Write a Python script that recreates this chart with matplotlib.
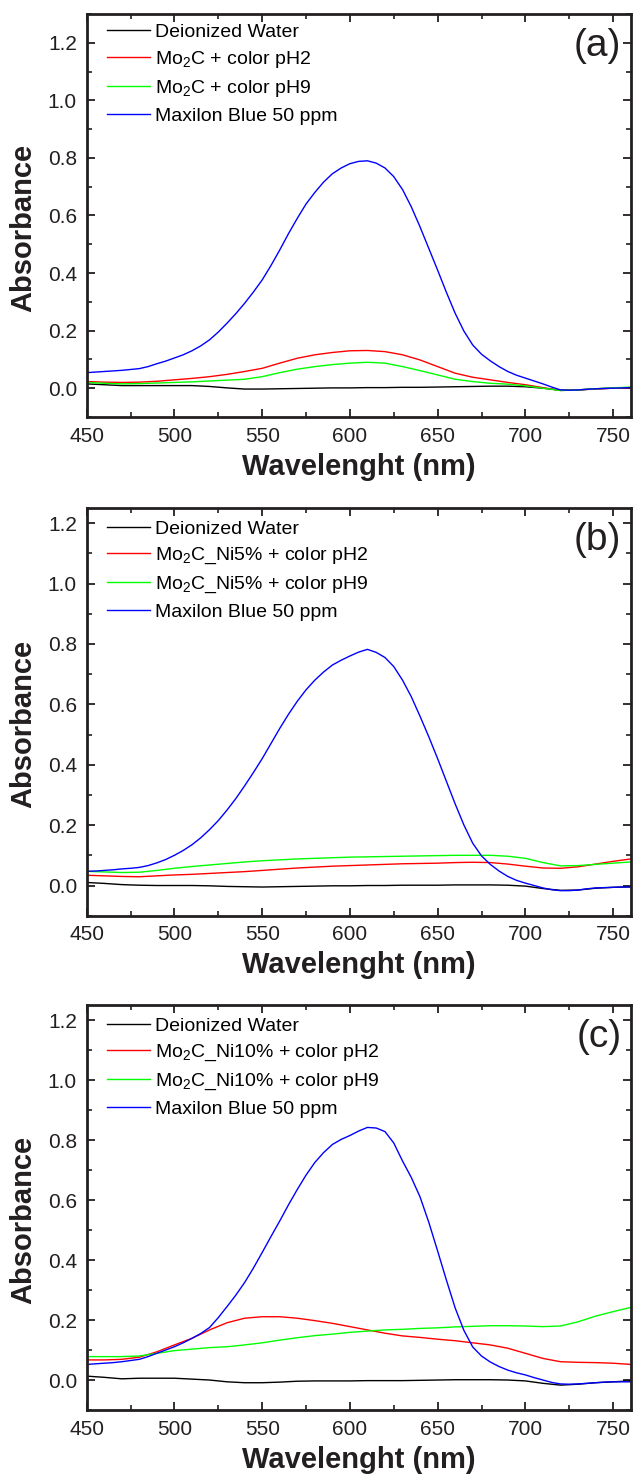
import matplotlib
matplotlib.use('Agg')
import matplotlib.pyplot as plt
from matplotlib.ticker import MultipleLocator, FormatStrFormatter

plt.rcParams['font.family'] = ['Liberation Sans', 'DejaVu Sans']
plt.rcParams['mathtext.fontset'] = 'custom'
plt.rcParams['mathtext.rm'] = 'Liberation Sans'
plt.rcParams['mathtext.it'] = 'Liberation Sans:italic'
plt.rcParams['mathtext.bf'] = 'Liberation Sans:bold'

# wavelength grids (nm): 10 nm for the flat spectra, 5 nm for the dye peak
wavelength = list(range(450, 761, 10))
wavelength_dye = list(range(450, 761, 5))

# panel (a) Mo2C
water_a = [0.015, 0.012, 0.009, 0.009, 0.009, 0.009, 0.009, 0.006, 0.001, -0.003,
           -0.003, -0.002, -0.001, 0.000, 0.001, 0.001, 0.002, 0.002, 0.003, 0.003,
           0.004, 0.005, 0.006, 0.007, 0.007, 0.005, 0.000, -0.007, -0.006, -0.002,
           0.000, 0.002]
ph2_a = [0.023, 0.021, 0.020, 0.021, 0.024, 0.029, 0.034, 0.040, 0.048, 0.058,
         0.069, 0.087, 0.104, 0.116, 0.124, 0.130, 0.131, 0.127, 0.116, 0.098,
         0.075, 0.052, 0.038, 0.029, 0.020, 0.012, 0.002, -0.008, -0.006, -0.003,
         0.000, 0.002]
ph9_a = [0.020, 0.017, 0.015, 0.016, 0.018, 0.020, 0.022, 0.025, 0.028, 0.031,
         0.040, 0.054, 0.066, 0.075, 0.082, 0.087, 0.090, 0.087, 0.075, 0.061,
         0.046, 0.031, 0.023, 0.017, 0.014, 0.008, 0.000, -0.008, -0.006, -0.002,
         0.001, 0.004]
dye_a = [0.054, 0.056, 0.058, 0.060, 0.062, 0.065, 0.068, 0.075, 0.085, 0.094,
         0.105, 0.116, 0.130, 0.147, 0.168, 0.195, 0.226, 0.259, 0.295, 0.334,
         0.376, 0.426, 0.480, 0.537, 0.590, 0.640, 0.680, 0.716, 0.745, 0.765,
         0.780, 0.788, 0.790, 0.782, 0.765, 0.735, 0.690, 0.630, 0.560, 0.485,
         0.410, 0.333, 0.260, 0.198, 0.150, 0.118, 0.095, 0.075, 0.058, 0.045,
         0.035, 0.025, 0.015, 0.004, -0.006, -0.007, -0.006, -0.004, -0.002, -0.001,
         0.000, 0.001, 0.002]

# panel (b) Mo2C_Ni5%
water_b = [0.010, 0.007, 0.003, 0.001, 0.000, 0.000, 0.000, -0.001, -0.003, -0.004,
           -0.005, -0.004, -0.003, -0.002, -0.001, -0.001, 0.000, 0.000, 0.001, 0.001,
           0.001, 0.002, 0.002, 0.002, 0.001, -0.002, -0.010, -0.016, -0.015, -0.009,
           -0.006, -0.004]
ph2_b = [0.034, 0.032, 0.030, 0.029, 0.032, 0.035, 0.037, 0.040, 0.043, 0.046,
         0.050, 0.054, 0.058, 0.061, 0.064, 0.066, 0.068, 0.070, 0.072, 0.073,
         0.074, 0.076, 0.077, 0.076, 0.071, 0.064, 0.058, 0.057, 0.062, 0.071,
         0.080, 0.088]
ph9_b = [0.047, 0.045, 0.043, 0.044, 0.050, 0.057, 0.063, 0.068, 0.073, 0.078,
         0.082, 0.085, 0.088, 0.090, 0.092, 0.094, 0.095, 0.096, 0.097, 0.098,
         0.099, 0.100, 0.100, 0.100, 0.097, 0.090, 0.076, 0.065, 0.066, 0.070,
         0.074, 0.078]
dye_b = [0.047, 0.048, 0.050, 0.052, 0.055, 0.057, 0.060, 0.066, 0.075, 0.086,
         0.100, 0.116, 0.135, 0.158, 0.185, 0.215, 0.250, 0.288, 0.330, 0.374,
         0.420, 0.470, 0.520, 0.567, 0.610, 0.648, 0.680, 0.707, 0.730, 0.746,
         0.760, 0.773, 0.782, 0.772, 0.755, 0.725, 0.680, 0.625, 0.560, 0.492,
         0.420, 0.345, 0.270, 0.200, 0.140, 0.098, 0.070, 0.048, 0.030, 0.017,
         0.008, 0.000, -0.008, -0.014, -0.017, -0.017, -0.015, -0.011, -0.008, -0.007,
         -0.006, -0.005, -0.005]

# panel (c) Mo2C_Ni10%
water_c = [0.013, 0.009, 0.004, 0.006, 0.006, 0.006, 0.003, 0.000, -0.006, -0.009,
           -0.009, -0.007, -0.004, -0.003, -0.003, -0.003, -0.002, -0.002, -0.002, -0.001,
           0.000, 0.001, 0.001, 0.001, 0.000, -0.003, -0.011, -0.017, -0.014, -0.009,
           -0.006, -0.003]
ph2_c = [0.067, 0.067, 0.069, 0.076, 0.094, 0.117, 0.139, 0.167, 0.191, 0.206,
         0.211, 0.211, 0.206, 0.198, 0.189, 0.178, 0.167, 0.156, 0.147, 0.142,
         0.136, 0.131, 0.124, 0.117, 0.106, 0.089, 0.072, 0.061, 0.059, 0.058,
         0.056, 0.052]
ph9_c = [0.078, 0.078, 0.078, 0.080, 0.089, 0.098, 0.103, 0.108, 0.111, 0.117,
         0.124, 0.133, 0.141, 0.148, 0.153, 0.159, 0.163, 0.167, 0.169, 0.172,
         0.174, 0.177, 0.179, 0.181, 0.181, 0.180, 0.178, 0.180, 0.194, 0.213,
         0.228, 0.242]
dye_c = [0.052, 0.054, 0.056, 0.058, 0.061, 0.065, 0.069, 0.078, 0.089, 0.100,
         0.111, 0.124, 0.139, 0.155, 0.175, 0.208, 0.245, 0.283, 0.325, 0.373,
         0.425, 0.478, 0.530, 0.584, 0.635, 0.683, 0.725, 0.758, 0.785, 0.802,
         0.815, 0.830, 0.842, 0.840, 0.828, 0.790, 0.730, 0.675, 0.610, 0.525,
         0.430, 0.333, 0.240, 0.165, 0.110, 0.080, 0.060, 0.045, 0.033, 0.024,
         0.017, 0.008, 0.000, -0.008, -0.013, -0.014, -0.013, -0.011, -0.009, -0.007,
         -0.006, -0.006, -0.006]

samples = ['Mo$_2$C', 'Mo$_2$C_Ni5%', 'Mo$_2$C_Ni10%']
panel_tags = ['(a)', '(b)', '(c)']
panel_data = [(water_a, ph2_a, ph9_a, dye_a),
              (water_b, ph2_b, ph9_b, dye_b),
              (water_c, ph2_c, ph9_c, dye_c)]
y_tops = [1.3, 1.25, 1.25]
colors = ['black', '#ff0000', '#00ff00', '#0000ff']

fig = plt.figure(figsize=(6.36, 14.76), dpi=100)
# axes boxes in figure fractions (left, bottom, width, height)
boxes = [(0.1363, 0.7175, 0.8553, 0.2730),
         (0.1363, 0.3796, 0.8553, 0.2762),
         (0.1363, 0.0447, 0.8553, 0.2744)]
legend_tops = [0.977, 0.970, 0.970]

ink = '#231f20'
for i in range(3):
    ax = fig.add_axes(boxes[i])
    labels = ['Deionized Water',
              samples[i] + ' + color pH2',
              samples[i] + ' + color pH9',
              'Maxilon Blue 50 ppm']
    xs = [wavelength, wavelength, wavelength, wavelength_dye]
    for x, series, c, lab in zip(xs, panel_data[i], colors, labels):
        ax.plot(x, series, color=c, lw=1.0, label=lab)

    ax.set_xlim(450, 760)
    ax.set_ylim(-0.1, y_tops[i])
    ax.xaxis.set_major_locator(MultipleLocator(50))
    ax.xaxis.set_minor_locator(MultipleLocator(25))
    ax.yaxis.set_major_locator(MultipleLocator(0.2))
    ax.yaxis.set_minor_locator(MultipleLocator(0.1))
    ax.yaxis.set_major_formatter(FormatStrFormatter('%.1f'))
    ax.tick_params(which='both', direction='in', top=True, right=True,
                   colors=ink, labelsize=15, pad=7)
    ax.tick_params(which='major', length=6, width=1.3)
    ax.tick_params(which='minor', length=3.5, width=1.2)
    for s in ax.spines.values():
        s.set_linewidth(2.0)
        s.set_color(ink)

    ax.set_xlabel('Wavelenght (nm)', fontsize=21, fontweight='bold',
                  color=ink, labelpad=5)
    ax.set_ylabel('Absorbance', fontsize=21, fontweight='bold', color=ink)
    ax.yaxis.set_label_coords(-0.09, 0.47)

    ax.legend(loc='upper left', bbox_to_anchor=(0.037, legend_tops[i]),
              frameon=False, fontsize=14, handlelength=2.2,
              handletextpad=0.3, labelspacing=0.42, borderpad=0,
              borderaxespad=0)
    ax.text(0.983, 0.965, panel_tags[i], transform=ax.transAxes,
            ha='right', va='top', fontsize=28, color=ink)

fig.savefig('out.png', dpi=100)
